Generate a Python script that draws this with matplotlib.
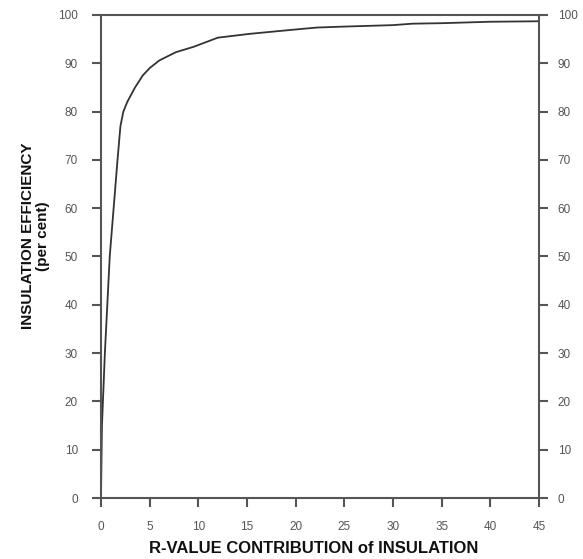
import matplotlib
matplotlib.use("Agg")
import matplotlib.pyplot as plt

plt.rcParams['font.family'] = ['Liberation Sans', 'DejaVu Sans']

# R-value contribution vs insulation efficiency
r_value = [0, 0.1, 0.4, 0.9, 1.7, 2.0, 2.3, 2.7, 3.5, 4.3, 5.0, 6.0, 7.7, 9.5, 12.0,
           15.3, 20.0, 22.2, 25.0, 30.0, 32.0, 35.0, 40.0, 45.0]
efficiency = [0, 15, 30, 50, 70, 77, 80, 82, 85, 87.5, 89, 90.6, 92.3, 93.4, 95.3,
              96.1, 97.0, 97.4, 97.6, 97.9, 98.2, 98.3, 98.6, 98.7]

x_ticks = list(range(0, 46, 5))
y_ticks = list(range(0, 101, 10))

axis_col = "#555555"
lab_col = "#555555"

fig = plt.figure(figsize=(5.83, 5.59), dpi=100)
ax = fig.add_axes([0.1732, 0.1091, 0.7513, 0.8641])

ax.plot(r_value, efficiency, color="#333333", linewidth=1.3)

ax.set_xlim(0, 45)
ax.set_ylim(0, 100)
ax.set_xticks(x_ticks)
ax.set_yticks(y_ticks)

for s in ax.spines.values():
    s.set_color(axis_col)
    s.set_linewidth(1.5)

ax.tick_params(axis='x', direction='out', length=6.5, width=1.5, color=axis_col,
               labelsize=8.5, labelcolor=lab_col, pad=10)
ax.tick_params(axis='y', direction='out', length=6.5, width=1.5, color=axis_col,
               labelsize=8.5, labelcolor=lab_col, pad=10)

# right-hand axis with its own tick labels
ax2 = ax.twinx()
ax2.set_ylim(0, 100)
ax2.set_yticks(y_ticks)
for s in ax2.spines.values():
    s.set_visible(False)
ax2.tick_params(axis='y', direction='out', length=6.5, width=1.5, color=axis_col,
                labelsize=8.5, labelcolor=lab_col, pad=7)

ax.set_xlabel("R-VALUE CONTRIBUTION of INSULATION", fontsize=12, fontweight='bold',
              color="#111111")
ax.xaxis.set_label_coords(0.486, -0.089)
ax.set_ylabel("INSULATION EFFICIENCY\n(per cent)", fontsize=11, fontweight='bold',
              color="#111111", linespacing=1.15)
ax.yaxis.set_label_coords(-0.116, 0.542)

fig.savefig("out.png", dpi=100)
